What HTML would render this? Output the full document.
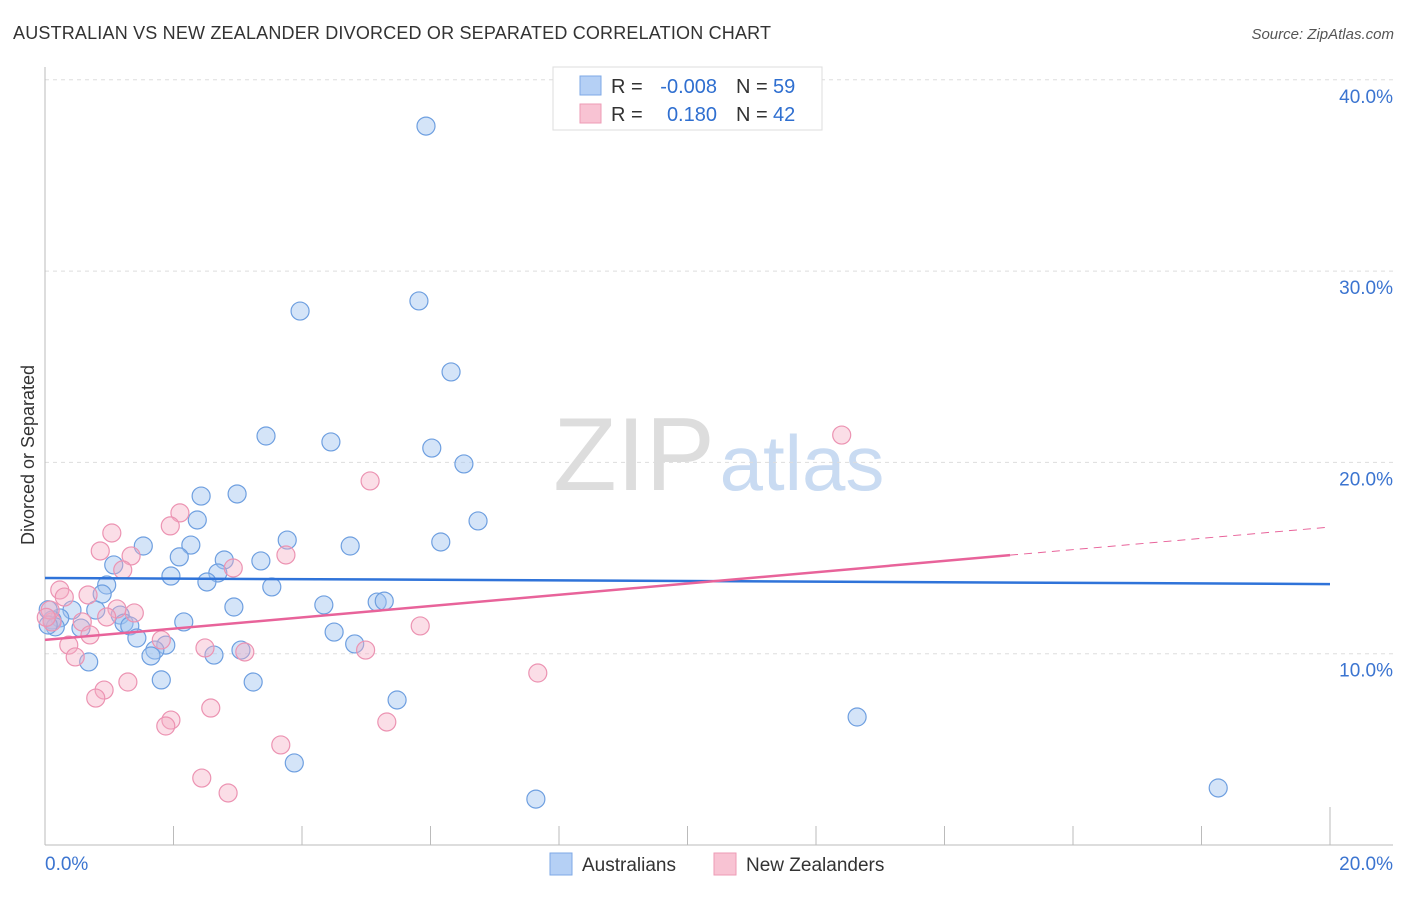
<!DOCTYPE html>
<html><head><meta charset="utf-8"><style>
body{margin:0;background:#fff;font-family:"Liberation Sans",sans-serif;}
svg text{font-family:"Liberation Sans",sans-serif;}
</style></head><body>
<svg id="chart" width="1406" height="892" xmlns="http://www.w3.org/2000/svg">
<text x="13" y="39" font-size="18" fill="#333" textLength="758">AUSTRALIAN VS NEW ZEALANDER DIVORCED OR SEPARATED CORRELATION CHART</text>
<text x="1394" y="39" font-size="15" fill="#555" font-style="italic" text-anchor="end">Source: ZipAtlas.com</text>
<g>
<text x="634" y="490" font-size="104" fill="#ddd" text-anchor="middle" font-family="Liberation Serif, serif">ZIP</text>
<text x="802" y="490" font-size="78" fill="#c9dbf2" text-anchor="middle">atlas</text>
</g>
<g id="grid"></g>
<g id="axes"></g>
<g id="marks"></g>
<text transform="translate(34,455) rotate(-90)" font-size="18" fill="#333" text-anchor="middle">Divorced or Separated</text>
<g>
<rect x="553" y="67" width="269" height="63" fill="#fff" stroke="#ddd"/>
<rect x="580" y="76" width="21" height="19" fill="#b5d0f5" stroke="#7ea8e6"/>
<rect x="580" y="104" width="21" height="19" fill="#f8c3d3" stroke="#ee9bb6"/>
<text x="611" y="93" font-size="20" fill="#333">R =</text>
<text x="717" y="93" font-size="20" fill="#2f6fd0" text-anchor="end">-0.008</text>
<text x="736" y="93" font-size="20" fill="#333">N =</text>
<text x="773" y="93" font-size="20" fill="#2f6fd0">59</text>
<text x="611" y="121" font-size="20" fill="#333">R =</text>
<text x="717" y="121" font-size="20" fill="#2f6fd0" text-anchor="end">0.180</text>
<text x="736" y="121" font-size="20" fill="#333">N =</text>
<text x="773" y="121" font-size="20" fill="#2f6fd0">42</text>
</g>
<g>
<rect x="550" y="853" width="22" height="22" fill="#b5d0f5" stroke="#7ea8e6"/>
<text x="582" y="871" font-size="19" fill="#333">Australians</text>
<rect x="714" y="853" width="22" height="22" fill="#f8c3d3" stroke="#ee9bb6"/>
<text x="746" y="871" font-size="19" fill="#333">New Zealanders</text>
</g>
</svg>
<script>
const yTicks=[10,20,30,40];
const yTickLabels=["10.0%","20.0%","30.0%","40.0%"];
const xTicks=[0,2,4,6,8,10,12,14,16,18,20];
const auX=[5.93,5.82,3.97,6.32,3.44,4.45,6.02,6.52,2.99,2.43,6.74,2.37,3.77,6.16,4.75,1.53,2.27,2.09,3.36,2.79,1.07,2.69,1.96,2.52,0.96,3.53,0.89,2.94,4.34,5.17,5.28,0.42,0.79,1.17,0.23,0.11,2.16,1.23,1.32,0.56,0.16,4.5,1.43,4.82,1.88,3.05,1.71,1.65,2.63,0.68,1.81,3.24,5.48,12.64,3.88,7.64,18.26,0.05,0.05];
const auY=[37.58,28.44,27.91,24.73,21.38,21.07,20.75,19.92,18.35,18.24,16.94,16.99,15.94,15.84,15.63,15.63,15.68,15.06,14.85,14.9,14.64,14.22,14.06,13.75,13.59,13.49,13.12,12.44,12.55,12.7,12.75,12.28,12.28,12.02,11.87,11.76,11.66,11.6,11.45,11.34,11.4,11.13,10.82,10.51,10.45,10.19,10.19,9.88,9.93,9.57,8.63,8.52,7.58,6.69,4.29,2.4,2.98,12.3,11.5];
const nzX=[12.4,5.06,2.1,1.95,1.04,0.86,1.34,3.75,2.93,1.21,0.23,0.3,0.67,1.12,1.39,0.96,0.58,5.84,0.7,0.11,1.81,2.49,3.11,4.99,0.37,0.47,7.67,1.29,0.92,0.79,2.58,1.96,1.88,5.32,3.67,2.44,2.85,0.08,0.02];
const nzY=[21.43,19.03,17.36,16.68,16.31,15.37,15.11,15.16,14.48,14.38,13.33,12.96,13.07,12.34,12.13,11.92,11.66,11.45,10.98,11.66,10.72,10.3,10.09,10.19,10.45,9.83,8.99,8.52,8.1,7.68,7.16,6.53,6.22,6.43,5.23,3.5,2.72,12.28,11.9];
const auTrend=[13.96,13.64];
const nzTrend=[10.72,16.62];
const nzSolidEnd=15.02;
const NS="http://www.w3.org/2000/svg";
const X=v=>45+v/20*1285, Y=v=>845-v*19.13;
function mk(tag,attrs,parent){const e=document.createElementNS(NS,tag);for(const k in attrs)e.setAttribute(k,attrs[k]);parent.appendChild(e);return e;}
const grid=document.getElementById('grid'),axes=document.getElementById('axes'),marks=document.getElementById('marks');
yTicks.forEach((t,i)=>{
 const l=mk('line',{x1:45,x2:1393,y1:Y(t),y2:Y(t),stroke:'#ddd','stroke-dasharray':'4,4'},grid);
 
 
 const tx=mk('text',{x:1393,y:Y(t)+23,'font-size':19,fill:'#3b74d0','text-anchor':'end'},axes);
 tx.textContent=yTickLabels[i];
 
 
});
const ya=mk('line',{x1:45,x2:45,y1:67,y2:845,stroke:'#bbb'},axes);


const xa=mk('line',{x1:45,x2:1393,y1:845,y2:845,stroke:'#bbb'},axes);


xTicks.forEach(t=>{
 const l=mk('line',{x1:X(t),x2:X(t),y1:t==20?807:826,y2:845,stroke:'#bbb'},axes);
 
 
});
const xl0=mk('text',{x:45,y:870,'font-size':19,fill:'#3b74d0'},axes);xl0.textContent='0.0%';


const xl1=mk('text',{x:1393,y:870,'font-size':19,fill:'#3b74d0','text-anchor':'end'},axes);xl1.textContent='20.0%';


auX.forEach((x,i)=>{
 const c=mk('circle',{cx:X(x),cy:Y(auY[i]),r:9,fill:'rgba(160,196,240,0.45)',stroke:'#6e9fe0','stroke-width':1.2},marks);
 
 
});
nzX.forEach((x,i)=>{
 const c=mk('circle',{cx:X(x),cy:Y(nzY[i]),r:9,fill:'rgba(244,172,196,0.4)',stroke:'#ec93b2','stroke-width':1.2},marks);
 
 
});
const at=mk('line',{x1:X(0),y1:Y(auTrend[0]),x2:X(20),y2:Y(auTrend[1]),stroke:'#2f73d9','stroke-width':2.5},marks);


const nzAt=v=>nzTrend[0]+(nzTrend[1]-nzTrend[0])*v/20;
const nt=mk('line',{x1:X(0),y1:Y(nzTrend[0]),x2:X(nzSolidEnd),y2:Y(nzAt(nzSolidEnd)),stroke:'#e8639a','stroke-width':2.5},marks);


const nd=mk('line',{x1:X(nzSolidEnd),y1:Y(nzAt(nzSolidEnd)),x2:X(20),y2:Y(nzTrend[1]),stroke:'#e8639a','stroke-width':1,'stroke-dasharray':'8,6'},marks);


</script>
</body></html>
